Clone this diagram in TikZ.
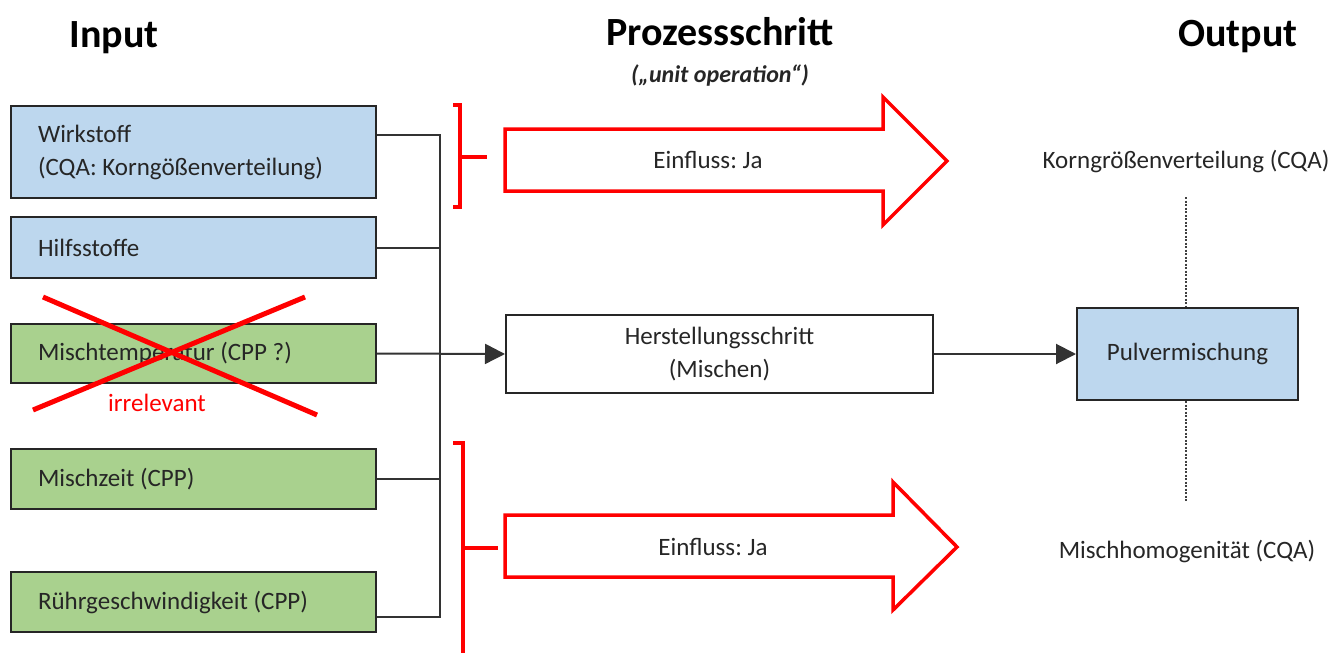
\documentclass[tikz,border=0pt]{standalone}
\usepackage{fontspec}
\setmainfont{Carlito}
\usetikzlibrary{arrows.meta}
\definecolor{bluefill}{HTML}{BDD7EE}
\definecolor{greenfill}{HTML}{A9D18E}
\definecolor{txt}{HTML}{262626}
\frenchspacing
\begin{document}
\begin{tikzpicture}[x=1pt,y=-1pt,
  every node/.style={font=\fontsize{25}{33}\selectfont, text=txt},
  inbox/.style={draw=black!85, line width=2, minimum width=365, text width=311, inner xsep=27, align=flush left, anchor=north west},
  bluebox/.style={inbox, fill=bluefill},
  greenbox/.style={inbox, fill=greenfill},
  conn/.style={draw=black!80, line width=2},
  arr/.style={conn, -{Triangle[length=20,width=20]}},
  redline/.style={draw=red, line width=3.5, line join=miter},
  title/.style={font=\fontsize{40}{44}\bfseries\selectfont, text=black, anchor=base},
]
\useasboundingbox (0,0) rectangle (1344,653);

% titles
\node[title] (tin) at (114,47) {Input};
\node[title] (tproc) at (720,45) {Prozessschritt};
\node[title] (tout) at (1238,46) {Output};
\node[font=\fontsize{24}{28}\bfseries\itshape\selectfont, anchor=base] (tunit) at (720,82) {(„unit operation“)};

% input boxes
\node[bluebox, minimum height=92] (w) at (10,105) {Wirkstoff\\(CQA: Korngößenverteilung)};
\node[bluebox, minimum height=61] (h) at (10,216) {Hilfsstoffe};
\node[greenbox, minimum height=59] (mt) at (10,323) {Mischtemperatur (CPP ?)};
\node[greenbox, minimum height=60] (mz) at (10,448) {Mischzeit (CPP)};
\node[greenbox, minimum height=60] (rg) at (10,571) {Rührgeschwindigkeit (CPP)};

% bus
\coordinate (bt) at (440,135);
\coordinate (bb) at (440,617);
\draw[conn] (w.east |- bt) -- (bt) -- (bb) -- (rg.east |- bb);
\draw[conn] (h.east) -- (h.east -| bt);
\draw[conn] (mz.east) -- (mz.east -| bt);

% process box
\node[draw=black!85, line width=2, minimum width=427, minimum height=78, align=center, anchor=north west] (hs) at (505,314) {Herstellungsschritt\\(Mischen)};
\draw[arr] (mt.east) -- (hs.west);

% output box
\node[draw=black!85, line width=2, fill=bluefill, minimum width=221, minimum height=92, anchor=north west] (pv) at (1076,307) {Pulvermischung};
\draw[arr] (hs.east) -- (pv.west);

% CQA labels and dotted lines
\node[anchor=base] (kg) at (1186,168) {Korngrößenverteilung (CQA)};
\node[anchor=base] (mh) at (1187,558) {Mischhomogenität (CQA)};
\coordinate (dt) at (1186,197);
\coordinate (db) at (1186,502);
\draw[draw=black!75, line width=1.5, dash pattern=on 2 off 1.5] (dt) -- (pv.north -| dt);
\draw[draw=black!75, line width=1.5, dash pattern=on 2 off 1.5] (pv.south -| db) -- (db);

% red cross
\draw[draw=red, line width=5] (43,297) -- (317,415);
\draw[draw=red, line width=5] (305,297) -- (33,410);
\node[anchor=base, text=red] (irr) at (157,411) {irrelevant};

% red brackets
\draw[redline] (453,105) -- (460,105) -- (460,207) -- (453,207);
\draw[redline] (460,157) -- (487,157);
\draw[redline] (453,443) -- (463,443) -- (463,660);
\draw[redline] (463,548) -- (498,548);

% red block arrows
\draw[redline] (505,129) -- (883,129) -- (883,97) -- (947,161) -- (883,225) -- (883,191) -- (505,191) -- cycle;
\node[anchor=base] (e1) at (708,168) {Einfluss: Ja};
\draw[redline] (505,515) -- (893,515) -- (893,482) -- (957,547) -- (893,610) -- (893,577) -- (505,577) -- cycle;
\node[anchor=base] (e2) at (713,555) {Einfluss: Ja};
\end{tikzpicture}
\end{document}
